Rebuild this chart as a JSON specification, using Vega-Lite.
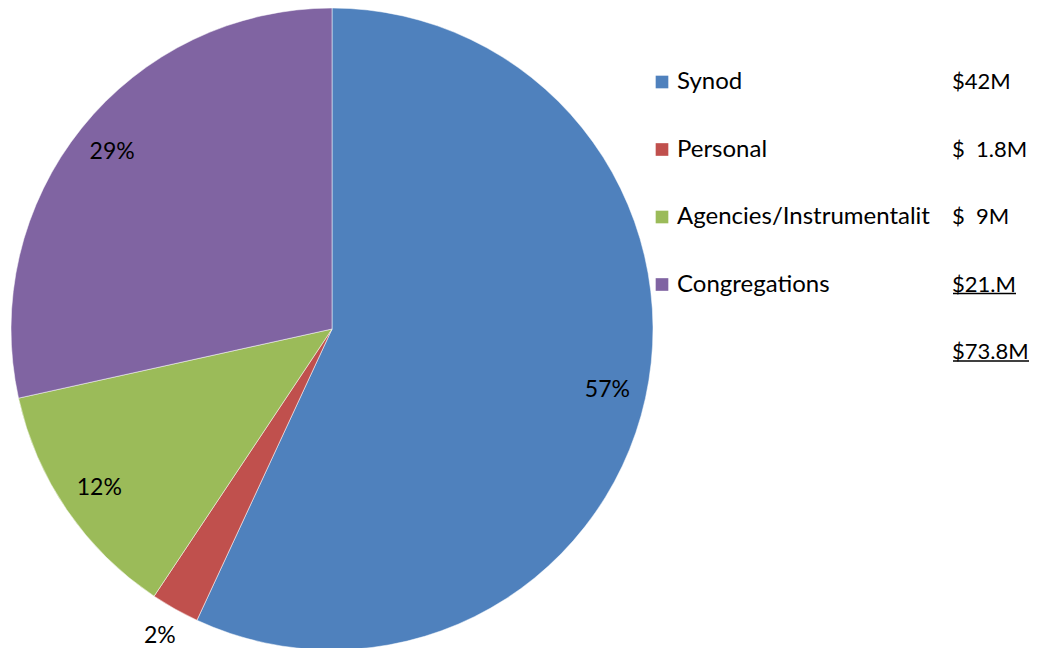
{
  "$schema": "https://vega.github.io/schema/vega-lite/v6.json",
  "background": "white",
  "padding": {"left": 10, "top": 7, "right": 0, "bottom": 0},
  "spacing": 0,
  "bounds": "flush",
  "config": {"view": {"stroke": null}, "font": "Lato"},
  "data": {"values": [
    {"category": "Synod", "value": 42, "pct": "57%", "amount": "$42M"},
    {"category": "Personal", "value": 1.8, "pct": "2%", "amount": "$\u00a0\u00a01.8M"},
    {"category": "Agencies/Instrumentalities", "value": 9, "pct": "12%", "amount": "$\u00a0\u00a09M"},
    {"category": "Congregations", "value": 21, "pct": "29%", "amount": "$21.M"},
    {"category": "Total", "amount": "$73.8M"}
  ]},
  "hconcat": [
    {
      "width": 642,
      "height": 642,
      "transform": [
        {"filter": "isValid(datum.value)"},
        {"window": [{"op": "row_number", "as": "rn"}]}
      ],
      "encoding": {
        "theta": {"field": "value", "type": "quantitative", "stack": true},
        "order": {"field": "rn", "type": "quantitative", "sort": "ascending"}
      },
      "layer": [
        {
          "mark": {"type": "arc", "stroke": "white", "strokeWidth": 0.5},
          "encoding": {
            "color": {"field": "category", "type": "nominal", "legend": null, "sort": null,
              "scale": {"domain": ["Synod", "Personal", "Agencies/Instrumentalities", "Congregations"],
                        "range": ["#4F81BD", "#C0504D", "#9BBB59", "#8064A2"]}}
          }
        },
        {
          "mark": {"type": "text", "radius": 282, "fontSize": 23, "color": "black"},
          "encoding": {"text": {"condition": {"test": "datum.category == 'Personal'", "value": ""}, "field": "pct"}}
        },
        {
          "mark": {"type": "text", "radius": 352, "fontSize": 23, "color": "black"},
          "encoding": {"text": {"condition": {"test": "datum.category != 'Personal'", "value": ""}, "field": "pct"}}
        }
      ]
    },
    {
      "width": 387,
      "height": 642,
      "encoding": {
        "y": {"field": "category", "type": "nominal", "axis": null,
          "scale": {"type": "point", "padding": 0, "domain": ["Synod", "Personal", "Agencies/Instrumentalities", "Congregations", "Total"], "range": [74, 344]}}
      },
      "layer": [
        {
          "transform": [{"filter": "isValid(datum.value)"}],
          "mark": {"type": "point", "shape": "square", "filled": true, "opacity": 1, "size": 160, "x": 9},
          "encoding": {"color": {"field": "category", "type": "nominal", "legend": null}}
        },
        {
          "transform": [{"filter": "isValid(datum.value)"}],
          "mark": {"type": "text", "align": "left", "baseline": "middle", "x": 24, "fontSize": 24, "color": "black", "limit": 256, "ellipsis": "\u200b"},
          "encoding": {"text": {"field": "category"}}
        },
        {
          "mark": {"type": "text", "align": "left", "baseline": "middle", "x": 299, "fontSize": 22, "color": "black"},
          "encoding": {"text": {"field": "amount"}}
        },
        {
          "transform": [{"filter": "datum.category == 'Congregations'"}],
          "mark": {"type": "rule", "x": 300, "x2": 363, "yOffset": 9, "strokeWidth": 1.5, "color": "black"},
          "encoding": {}
        },
        {
          "transform": [{"filter": "datum.category == 'Total'"}],
          "mark": {"type": "rule", "x": 300, "x2": 376, "yOffset": 9, "strokeWidth": 1.5, "color": "black"},
          "encoding": {}
        }
      ]
    }
  ]
}
